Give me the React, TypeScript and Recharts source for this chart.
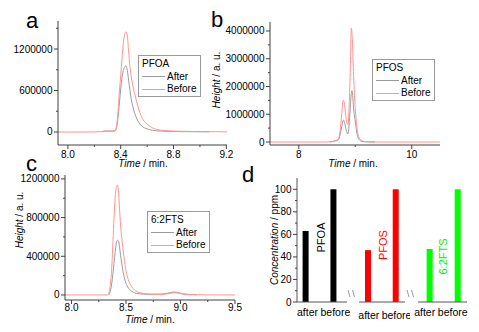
import React from 'react';
import { LineChart, Line, XAxis, YAxis, Legend, BarChart, Bar } from 'recharts';

const FONT = '"Liberation Sans", Arial, Helvetica, sans-serif';
const AXIS_COLOR = '#404040';
const AFTER_COLOR = '#9a9a9a';
const BEFORE_COLOR = '#ff9494';
const TS = 4;
const TM = 2;

// ---------- Panel a : PFOA chromatogram ----------
const pfoaTime = [7.925, 8.0, 8.1, 8.2, 8.25, 8.28, 8.31, 8.34, 8.36, 8.37, 8.38, 8.39, 8.4, 8.41, 8.42, 8.43, 8.44, 8.45, 8.46, 8.47, 8.48, 8.49, 8.51, 8.53, 8.56, 8.6, 8.64, 8.7, 8.75, 8.85, 8.96, 9.07, 9.17, 9.205];
const pfoaBefore = [0, 0, 0, 2000, 5000, 14000, 15000, 12000, 22000, 110000, 300000, 580000, 820000, 1060000, 1290000, 1410000, 1450000, 1390000, 1160000, 940000, 800000, 680000, 520000, 370000, 210000, 115000, 60000, 28000, 18000, 10000, 7000, 5000, 3000, 0];
const pfoaAfter = [null, null, null, null, 5000, 12000, 13000, 10000, 18000, 75000, 220000, 420000, 620000, 790000, 890000, 940000, 955000, 890000, 750000, 600000, 470000, 380000, 250000, 160000, 85000, 45000, 25000, 14000, 10000, 6000, 4000, 3000, null, null];
const pfoaXMajor = [8.0, 8.4, 8.8, 9.2];
const pfoaXMinor = [8.2, 8.6, 9.0];
const pfoaYMajor = [0, 600000, 1200000];
const pfoaYMinor = [300000, 900000, 1500000];

// ---------- Panel b : PFOS chromatogram ----------
const pfosTime = [7.49, 8.0, 8.5, 8.55, 8.6, 8.65, 8.7, 8.73, 8.76, 8.78, 8.79, 8.81, 8.84, 8.87, 8.89, 8.91, 8.93, 8.94, 8.95, 8.97, 9.0, 9.03, 9.07, 9.12, 9.2, 9.35, 9.6, 10.0, 10.5];
const pfosBefore = [0, 0, 0, 5000, 20000, 50000, 100000, 400000, 1000000, 1450000, 1510000, 1350000, 800000, 620000, 1200000, 2500000, 4100000, 3950000, 3600000, 2400000, 1200000, 500000, 150000, 40000, 10000, 0, 0, 0, 0];
const pfosAfter = [null, null, null, 0, 20000, 40000, 80000, 250000, 550000, 760000, 790000, 700000, 420000, 290000, 600000, 1200000, 1750000, 1850000, 1780000, 1200000, 750000, 300000, 80000, 20000, 5000, 0, null, null, null];
const pfosXMajor = [8, 10];
const pfosXMinor = [9];
const pfosYMajor = [0, 1000000, 2000000, 3000000, 4000000];
const pfosYMinor = [500000, 1500000, 2500000, 3500000];

// ---------- Panel c : 6:2FTS chromatogram ----------
const ftsTime = [7.94, 8.0, 8.2, 8.33, 8.34, 8.35, 8.36, 8.37, 8.38, 8.39, 8.4, 8.41, 8.42, 8.43, 8.44, 8.45, 8.46, 8.48, 8.5, 8.52, 8.55, 8.58, 8.62, 8.7, 8.8, 8.88, 8.92, 8.95, 8.98, 9.02, 9.08, 9.15, 9.3, 9.5];
const ftsBefore = [0, 0, 0, 0, 15000, 60000, 150000, 300000, 550000, 800000, 1000000, 1110000, 1137000, 1080000, 900000, 720000, 600000, 400000, 250000, 160000, 90000, 50000, 25000, 10000, 6000, 12000, 20000, 22000, 18000, 10000, 5000, 3000, 0, 0];
const ftsAfter = [null, null, null, null, 0, 20000, 60000, 130000, 220000, 330000, 440000, 530000, 565000, 560000, 500000, 410000, 330000, 200000, 120000, 75000, 40000, 22000, 12000, 8000, 8000, 18000, 28000, 30000, 24000, 12000, 5000, 2000, null, null];
const ftsXMajor = [8.0, 8.5, 9.0, 9.5];
const ftsXMinor = [8.25, 8.75, 9.25];
const ftsYMajor = [0, 400000, 800000, 1200000];
const ftsYMinor = [200000, 600000, 1000000];

// ---------- Panel d : concentrations ----------
const concCategories = ['after', 'before'];
const pfoaConc = [63, 100];
const pfosConc = [46, 100];
const ftsConc = [47, 100];
const concYMajor = [0, 20, 40, 60, 80, 100];
const concYMinor = [10, 30, 50, 70, 90];

const seriesColor: Record<string, string> = { after: AFTER_COLOR, before: BEFORE_COLOR };

type Row = { t: number; after: number | null; before: number | null };
const zip = (t: number[], a: (number | null)[], b: (number | null)[]): Row[] =>
  t.map((x, i) => ({ t: x, after: a[i], before: b[i] }));

const isIn = (list: number[], v: number) => list.some((m) => Math.abs(m - v) < 1e-6);

function makeXTick(majorList: number[], fmt: (v: number) => string, opts: { fontSize?: number; dy?: number; dx?: number; lines?: boolean } = {}) {
  const { fontSize = 10, dy = 12.5, dx = 0, lines = true } = opts;
  return (props: any) => {
    const { x, y, payload } = props;
    const v = Number(payload.value);
    const isMajor = isIn(majorList, v);
    const ay = y - TS - TM;
    return (
      <g>
        {lines && <line x1={x} x2={x} y1={ay} y2={ay + (isMajor ? 4 : 2)} stroke={AXIS_COLOR} strokeWidth={1} />}
        {isMajor && (
          <text x={x + dx} y={ay + dy} textAnchor="middle" fontFamily={FONT} fontSize={fontSize} fill="#000">
            {fmt(v)}
          </text>
        )}
      </g>
    );
  };
}

function makeYTick(majorList: number[], fontSize = 10) {
  return (props: any) => {
    const { x, y, payload } = props;
    const v = Number(payload.value);
    const isMajor = isIn(majorList, v);
    const ax = x + TS + TM;
    return (
      <g>
        <line x1={ax} x2={ax - (isMajor ? 4 : 2)} y1={y} y2={y} stroke={AXIS_COLOR} strokeWidth={1} />
        {isMajor && (
          <text x={ax - 5.5} y={y} dy={3.5} textAnchor="end" fontFamily={FONT} fontSize={fontSize} fill="#000">
            {String(v)}
          </text>
        )}
      </g>
    );
  };
}

const fmt1 = (v: number) => v.toFixed(1);
const fmt0 = (v: number) => String(v);

function makeLegend(title: string) {
  return (props: any) => {
    const payload: any[] = props.payload || [];
    return (
      <div
        style={{
          border: '1px solid #9a9a9a',
          background: '#fff',
          width: 63,
          height: 42,
          boxSizing: 'border-box',
          padding: '2px 0 0 3px',
          fontFamily: FONT,
          fontSize: 10,
          lineHeight: '12.5px',
          color: '#000',
          textAlign: 'left',
        }}
      >
        <div>{title}</div>
        {payload.map((p) => {
          const key = String(p.dataKey ?? '').toLowerCase() || String(p.value).toLowerCase();
          const col = seriesColor[key] || p.color;
          return (
            <div key={String(p.value)} style={{ display: 'flex', alignItems: 'center', height: 12.5 }}>
              <span style={{ display: 'inline-block', width: 23, height: 1, background: col, marginRight: 2 }} />
              <span>{p.value}</span>
            </div>
          );
        })}
      </div>
    );
  };
}

type ChromProps = {
  rows: Row[];
  title: string;
  frame: { left: number; top: number; width: number; height: number };
  margin: { top: number; right: number; bottom: number; left: number };
  yAxisWidth: number;
  xAxisHeight: number;
  xDomain: [number, number];
  yDomain: [number, number];
  xMajor: number[];
  xMinor: number[];
  yMajor: number[];
  yMinor: number[];
  xFmt: (v: number) => string;
  xLabelDy: number;
  legendPos: { left: number; top: number };
};

function Chromatogram(p: ChromProps) {
  const xTicks = [...p.xMajor, ...p.xMinor].sort((a, b) => a - b);
  const yTicks = [...p.yMajor, ...p.yMinor].sort((a, b) => a - b);
  return (
    <div style={{ position: 'absolute', left: p.frame.left, top: p.frame.top }}>
      <LineChart width={p.frame.width} height={p.frame.height} data={p.rows} margin={p.margin}>
        <XAxis
          type="number"
          dataKey="t"
          domain={p.xDomain}
          allowDataOverflow
          ticks={xTicks}
          interval={0}
          height={p.xAxisHeight}
          tickLine={false}
          tickSize={TS}
          tickMargin={TM}
          tick={makeXTick(p.xMajor, p.xFmt, { dy: p.xLabelDy })}
          axisLine={{ stroke: AXIS_COLOR, strokeWidth: 1 }}
        />
        <YAxis
          type="number"
          domain={p.yDomain}
          allowDataOverflow
          ticks={yTicks}
          interval={0}
          width={p.yAxisWidth}
          tickLine={false}
          tickSize={TS}
          tickMargin={TM}
          tick={makeYTick(p.yMajor)}
          axisLine={{ stroke: AXIS_COLOR, strokeWidth: 1 }}
        />
        <Line type="monotone" dataKey="after" name="After" stroke={AFTER_COLOR} strokeWidth={1} dot={false} activeDot={false} isAnimationActive={false} />
        <Line type="monotone" dataKey="before" name="Before" stroke={BEFORE_COLOR} strokeWidth={1} dot={false} activeDot={false} isAnimationActive={false} />
        <Legend
          layout="horizontal"
          verticalAlign="middle"
          align="center"
          content={makeLegend(p.title)}
          wrapperStyle={{ left: p.legendPos.left, top: p.legendPos.top, width: 63, height: 42 }}
        />
      </LineChart>
    </div>
  );
}

type GroupProps = {
  values: number[];
  color: string;
  frame: { left: number; top: number; width: number; height: number };
  margin: { top: number; right: number; bottom: number; left: number };
  xDomain: [number, number];
  showY: boolean;
  labelDx: number;
  labelDy: number;
};

function ConcGroup(g: GroupProps) {
  const rows = concCategories.map((c, i) => ({ pos: i + 1, name: c, value: g.values[i] }));
  const yTicks = [...concYMajor, ...concYMinor].sort((a, b) => a - b);
  return (
    <div style={{ position: 'absolute', left: g.frame.left, top: g.frame.top }}>
      <BarChart width={g.frame.width} height={g.frame.height} data={rows} margin={g.margin}>
        <XAxis
          type="number"
          dataKey="pos"
          domain={g.xDomain}
          allowDataOverflow
          ticks={[1, 2]}
          interval={0}
          height={30}
          tickLine={false}
          tickSize={TS}
          tickMargin={TM}
          tick={makeXTick([1, 2], (v) => concCategories[v - 1], { fontSize: 10.5, dy: g.labelDy, dx: g.labelDx, lines: false })}
          axisLine={{ stroke: '#555', strokeWidth: 1 }}
        />
        <YAxis
          type="number"
          domain={[0, 110]}
          allowDataOverflow
          hide={!g.showY}
          ticks={yTicks}
          interval={0}
          width={57}
          tickLine={false}
          tickSize={TS}
          tickMargin={TM}
          tick={makeYTick(concYMajor)}
          axisLine={{ stroke: '#555', strokeWidth: 1 }}
        />
        <Bar dataKey="value" fill={g.color} barSize={6} isAnimationActive={false} />
      </BarChart>
    </div>
  );
}

const TimeTitle = ({ x, y }: { x: number; y: number }) => (
  <text x={x} y={y} textAnchor="middle" fontFamily={FONT} fontSize={10} fill="#000">
    <tspan fontStyle="italic">Time</tspan>
    <tspan> / min.</tspan>
  </text>
);

const RotTitle = ({ x, y, italic, rest }: { x: number; y: number; italic: string; rest: string }) => (
  <text x={x} y={y + 3.5} textAnchor="middle" transform={`rotate(-90, ${x}, ${y})`} fontFamily={FONT} fontSize={10} fill="#000">
    <tspan fontStyle="italic">{italic}</tspan>
    <tspan>{rest}</tspan>
  </text>
);

export default function App() {
  const letter = { fontFamily: FONT, fontSize: 22, fill: '#000' } as const;
  return (
    <div style={{ position: 'absolute', left: 0, top: 0, width: 479, height: 332, background: '#fff', overflow: 'hidden' }}>
      <Chromatogram
        rows={zip(pfoaTime, pfoaAfter, pfoaBefore)}
        title="PFOA"
        frame={{ left: 0, top: 0, width: 240, height: 170 }}
        margin={{ top: 21, right: 13, bottom: 0, left: 0 }}
        yAxisWidth={58}
        xAxisHeight={25}
        xDomain={[7.925, 9.205]}
        yDomain={[-188000, 1605000]}
        xMajor={pfoaXMajor}
        xMinor={pfoaXMinor}
        yMajor={pfoaYMajor}
        yMinor={pfoaYMinor}
        xFmt={fmt1}
        xLabelDy={12.5}
        legendPos={{ left: 138, top: 55 }}
      />
      <Chromatogram
        rows={zip(pfosTime, pfosAfter, pfosBefore)}
        title="PFOS"
        frame={{ left: 200, top: 0, width: 279, height: 170 }}
        margin={{ top: 22, right: 39, bottom: 0, left: 0 }}
        yAxisWidth={70}
        xAxisHeight={25}
        xDomain={[7.49, 10.5]}
        yDomain={[-108000, 4324000]}
        xMajor={pfosXMajor}
        xMinor={pfosXMinor}
        yMajor={pfosYMajor}
        yMinor={pfosYMinor}
        xFmt={fmt0}
        xLabelDy={12.5}
        legendPos={{ left: 172, top: 59 }}
      />
      <Chromatogram
        rows={zip(ftsTime, ftsAfter, ftsBefore)}
        title="6:2FTS"
        frame={{ left: 0, top: 150, width: 250, height: 182 }}
        margin={{ top: 25, right: 15, bottom: 0, left: 0 }}
        yAxisWidth={65}
        xAxisHeight={32}
        xDomain={[7.94, 9.5]}
        yDomain={[-52000, 1240000]}
        xMajor={ftsXMajor}
        xMinor={ftsXMinor}
        yMajor={ftsYMajor}
        yMinor={ftsYMinor}
        xFmt={fmt1}
        xLabelDy={10.5}
        legendPos={{ left: 147, top: 61 }}
      />
      <ConcGroup
        values={pfoaConc}
        color="#000000"
        frame={{ left: 240, top: 160, width: 110, height: 172 }}
        margin={{ top: 18, right: 3, bottom: 0, left: 0 }}
        xDomain={[0.694, 2.49]}
        showY
        labelDx={2}
        labelDy={14}
      />
      <ConcGroup
        values={pfosConc}
        color="#ff0000"
        frame={{ left: 350, top: 160, width: 60, height: 172 }}
        margin={{ top: 18, right: 5, bottom: 0, left: 9 }}
        xDomain={[0.68, 2.34]}
        showY={false}
        labelDx={1}
        labelDy={17}
      />
      <ConcGroup
        values={ftsConc}
        color="#00ff00"
        frame={{ left: 410, top: 160, width: 69, height: 172 }}
        margin={{ top: 18, right: 12, bottom: 0, left: 8 }}
        xDomain={[0.584, 2.33]}
        showY={false}
        labelDx={-5}
        labelDy={14}
      />
      <svg width={479} height={332} style={{ position: 'absolute', left: 0, top: 0, pointerEvents: 'none' }}>
        <text x={26} y={28} {...letter}>a</text>
        <text x={211} y={27} {...letter}>b</text>
        <text x={26} y={171} {...letter}>c</text>
        <text x={242} y={182} {...letter}>d</text>
        <TimeTitle x={143} y={166.5} />
        <TimeTitle x={353} y={166.5} />
        <TimeTitle x={150} y={322.5} />
        <RotTitle x={216.5} y={80} italic="Height" rest=" / a. u." />
        <RotTitle x={19} y={220} italic="Height" rest=" / a. u." />
        <RotTitle x={274} y={240} italic="Concentration" rest=" / ppm" />
        <text x={320.5} y={237.5 + 4} textAnchor="middle" transform="rotate(-90, 320.5, 237.5)" fontFamily={FONT} fontSize={11} fill="#000">PFOA</text>
        <text x={383.3} y={245 + 4} textAnchor="middle" transform="rotate(-90, 383.3, 245)" fontFamily={FONT} fontSize={11} fill="#ff0000">PFOS</text>
        <text x={442.5} y={256.5 + 4} textAnchor="middle" transform="rotate(-90, 442.5, 256.5)" fontFamily={FONT} fontSize={11} fill="#00ee00">6:2FTS</text>
        <g stroke="#999" strokeWidth={1}>
          <line x1={348} y1={290} x2={350} y2={297} />
          <line x1={352.5} y1={290} x2={354.5} y2={297} />
          <line x1={407} y1={290} x2={409} y2={297} />
          <line x1={411.5} y1={290} x2={413.5} y2={297} />
        </g>
      </svg>
    </div>
  );
}
